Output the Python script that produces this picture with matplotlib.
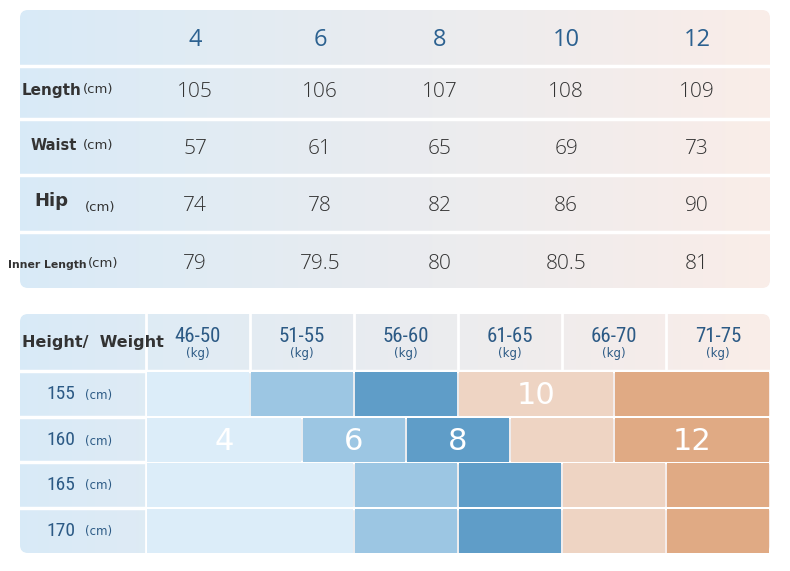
import numpy as np
import matplotlib.pyplot as plt
from matplotlib.patches import FancyBboxPatch, Rectangle

# top table data
sizes = ["4", "6", "8", "10", "12"]
measures = ["Length", "Waist", "Hip", "Inner Length"]
length = ["105", "106", "107", "108", "109"]
waist = ["57", "61", "65", "69", "73"]
hip = ["74", "78", "82", "86", "90"]
inner = ["79", "79.5", "80", "80.5", "81"]

# bottom table data
weights = ["46-50", "51-55", "56-60", "61-65", "66-70", "71-75"]
heights = ["155", "160", "165", "170"]
# segment edges in weight-column units, and the size in each segment
edges = {
    "155": [0, 1, 2, 3, 4.5, 6],
    "160": [0, 1.5, 2.5, 3.5, 4.5, 6],
    "165": [0, 2, 3, 4, 5, 6],
    "170": [0, 2, 3, 4, 5, 6],
}
seg_sizes = ["4", "6", "8", "10", "12"]
shown = {"155": "10", "160": ["4", "6", "8", "12"]}

size_colors = {"4": "#dcedf9", "6": "#9cc6e3", "8": "#5f9dc8",
               "10": "#eed4c3", "12": "#e0aa84"}

fig = plt.figure(figsize=(7.9, 5.71), dpi=100)
ax = fig.add_axes([0, 0, 1, 1])

# gradient backgrounds
grad = np.linspace(0, 1, 256)
c1 = np.array([0.85, 0.92, 0.97])
c2 = np.array([0.98, 0.93, 0.91])
img = (c1[None, :] * (1 - grad[:, None]) + c2[None, :] * grad[:, None])[None, :, :]


def gradient_box(x0, y0, x1, y1):
    box = FancyBboxPatch((x0, y0), x1 - x0, y1 - y0, boxstyle="round,pad=0,rounding_size=8",
                         fc="none", ec="none")
    ax.add_patch(box)
    im = ax.imshow(img, extent=(x0, x1, y1, y0), aspect="auto", zorder=0)
    im.set_clip_path(box)


gradient_box(20, 10, 770, 288)
gradient_box(20, 314, 770, 553)
ax.set_xlim(0, 790)
ax.set_ylim(571, 0)
ax.axis("off")

# top table
col_x = [195, 320, 440, 566, 697]
row_lines = [65.5, 118.5, 174.5, 231.5]
for y in row_lines:
    ax.plot([20, 770], [y, y], color="white", lw=2.5, zorder=2)
for x, s in zip(col_x, sizes):
    ax.text(x, 40, s, ha="center", va="center", fontsize=17, color="#2c6190", family="Open Sans")
row_y = [92, 149, 206, 264]
for y, vals in zip(row_y, [length, waist, hip, inner]):
    for x, v in zip(col_x, vals):
        ax.text(x, y, v, ha="center", va="center", fontsize=15, color="#333333",
                family="Open Sans", fontweight="light")
lab_pos = [(22, 91, 11), (31, 146, 10.5), (34, 201, 13), (8, 265, 7.8)]
unit_x = [83, 83, 85, 88]
unit_y = [90, 146, 207, 264]
for (x, y, fs), m, ux, uy in zip(lab_pos, measures, unit_x, unit_y):
    ax.text(x, y, m, ha="left", va="center", fontsize=fs, fontweight="bold", color="#333333")
    ax.text(ux, uy, "(cm)", ha="left", va="center", fontsize=9.5, color="#333333")

# bottom table
x0, cw = 146, 104
rows_top = [372, 418, 463, 509]
rh = 44
for i, w in enumerate(weights):
    cx = x0 + cw * (i + 0.5)
    ax.text(cx, 336, w, ha="center", va="center", fontsize=15, color="#2c5a85", family="Roboto Condensed")
    ax.text(cx, 353, "(kg)", ha="center", va="center", fontsize=8.5, color="#2c5a85")
    if i > 0:
        ax.plot([x0 + cw * i] * 2, [314, 370], color="white", lw=2, zorder=2)
ax.plot([x0, x0], [314, 553], color="white", lw=2, zorder=2)
ax.text(22, 343, "Height/  Weight", ha="left", va="center", fontsize=11.5,
        fontweight="bold", color="#333333")
for h, yt in zip(heights, rows_top):
    ax.plot([20, 770], [yt - 1, yt - 1], color="white", lw=2.5, zorder=2)
    ax.text(46, yt + rh / 2, h, ha="left", va="center", fontsize=14, color="#2c5a85",
            family="Roboto Condensed")
    ax.text(85, yt + rh / 2 + 1, "(cm)", ha="left", va="center", fontsize=8.5, color="#2c5a85")
    e = edges[h]
    for j, s in enumerate(seg_sizes):
        xa = x0 + e[j] * cw + 1
        xb = x0 + e[j + 1] * cw - 1
        ax.add_patch(Rectangle((xa, yt), xb - xa, rh, fc=size_colors[s], ec="none", zorder=3))
        lab = shown.get(h, [])
        if s in lab:
            ax.text((xa + xb) / 2, yt + rh / 2 + 1, s, ha="center", va="center",
                    fontsize=22, color="white", zorder=4)

fig.savefig("out.png", dpi=100)
